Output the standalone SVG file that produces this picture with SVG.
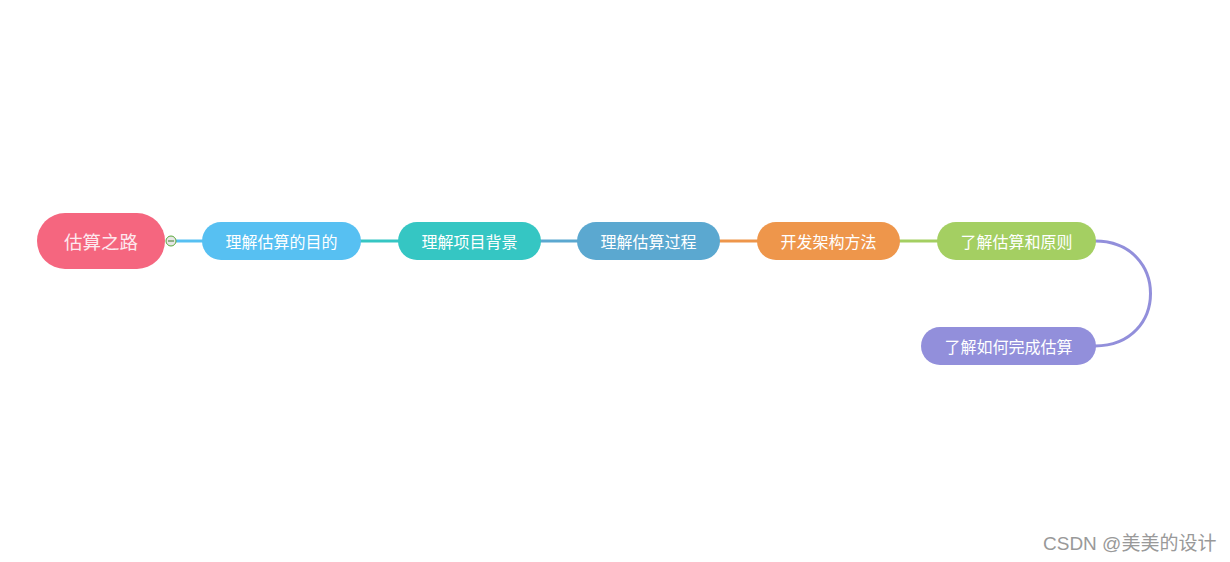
<svg xmlns="http://www.w3.org/2000/svg" width="1230" height="562" viewBox="0 0 1230 562">
<style>
.t{font-family:"Microsoft YaHei","Noto Sans CJK SC",sans-serif;font-size:16px;fill:#ffffff;text-anchor:middle;dominant-baseline:central}
.c{fill:none;stroke-width:3}
</style>
<rect width="1230" height="562" fill="#ffffff"/>
<g id="connectors">
<line class="c" x1="176" y1="241" x2="203" y2="241" stroke="#57c0f2"/>
<line class="c" x1="360" y1="241" x2="399" y2="241" stroke="#35c6c3"/>
<line class="c" x1="540" y1="241" x2="578" y2="241" stroke="#5ba8d0"/>
<line class="c" x1="719" y1="241" x2="758" y2="241" stroke="#ee964b"/>
<line class="c" x1="899" y1="241" x2="938" y2="241" stroke="#a4cf62"/>
<path class="c" d="M1095,241 C1169,241 1169,346 1095,346" stroke="#928fdb"/>
</g>
<g id="root">
<rect x="37" y="213" width="128" height="56" rx="28" fill="#f5667f"/>
<text x="101" y="241" class="t" style="font-size:18.5px;fill:#fde8ee;font-family:'Noto Sans CJK SC',serif">估算之路</text>
</g>
<g id="collapse">
<circle cx="171" cy="241" r="5" fill="#e6e6e6" stroke="#5aa83a" stroke-width="1"/>
<line x1="168" y1="241" x2="174" y2="241" stroke="#3c7a28" stroke-width="1"/>
</g>
<g id="n1">
<rect x="202" y="222" width="159" height="38" rx="19" fill="#57c0f2"/>
<text x="281.5" y="241" class="t">理解估算的目的</text>
</g>
<g id="n2">
<rect x="398" y="222" width="143" height="38" rx="19" fill="#35c6c3"/>
<text x="469.5" y="241" class="t">理解项目背景</text>
</g>
<g id="n3">
<rect x="577" y="222" width="143" height="38" rx="19" fill="#5ba8d0"/>
<text x="648.5" y="241" class="t">理解估算过程</text>
</g>
<g id="n4">
<rect x="757" y="222" width="143" height="38" rx="19" fill="#ee964b"/>
<text x="828.5" y="241" class="t">开发架构方法</text>
</g>
<g id="n5">
<rect x="937" y="222" width="159" height="38" rx="19" fill="#a4cf62"/>
<text x="1016.5" y="241" class="t">了解估算和原则</text>
</g>
<g id="n6">
<rect x="921" y="327" width="175" height="38" rx="19" fill="#928fdb"/>
<text x="1008.5" y="346" class="t">了解如何完成估算</text>
</g>
<text x="1043" y="550" style="font-family:'Liberation Sans','Noto Sans CJK SC',sans-serif;font-size:19px;fill:#999999">CSDN @美美的设计</text>
</svg>
